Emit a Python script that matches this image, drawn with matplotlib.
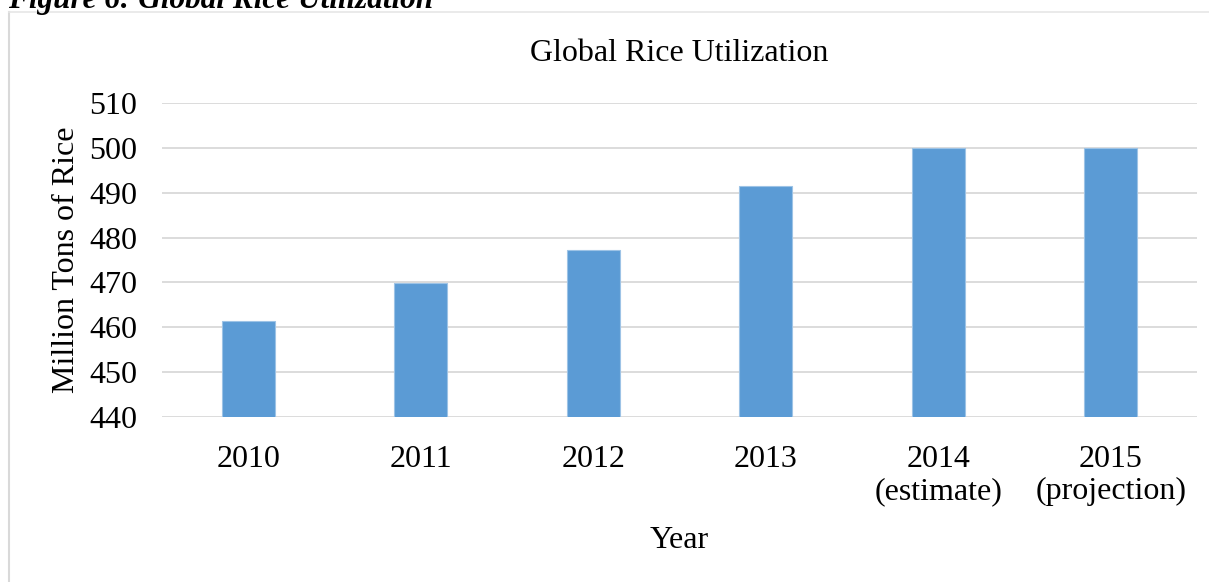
import matplotlib.pyplot as plt
from matplotlib.lines import Line2D

# Data
years = ['2010', '2011', '2012', '2013', '2014\n(estimate)', '2015\n(projection)']
utilization = [461.5, 469.8, 477.3, 491.5, 500.0, 500.0]
y_ticks = [440, 450, 460, 470, 480, 490, 500, 510]

plt.rcParams['font.family'] = ['Liberation Serif', 'DejaVu Serif']

W, H = 1209, 582
fig = plt.figure(figsize=(W / 100, H / 100), dpi=100)
ax = fig.add_axes([162 / W, 1 - 417 / H, (1197 - 162) / W, (417 - 103) / H])

ax.bar(range(len(years)), utilization, width=0.31, color='#5b9bd5',
       edgecolor='#9dc3e6', linewidth=0.8, zorder=3)

ax.set_ylim(440, 510)
ax.set_xlim(-0.5, len(years) - 0.5)
ax.set_yticks(y_ticks)
ax.set_xticks(range(len(years)))
ax.set_xticklabels(years, linespacing=1.12)
ax.tick_params(axis='both', length=0, labelsize=23)
ax.tick_params(axis='y', pad=18)
ax.tick_params(axis='x', pad=20.5)
ax.grid(axis='y', color='#d9d9d9', linewidth=1.3, zorder=0)
for s in ax.spines.values():
    s.set_visible(False)

ax.set_ylabel('Million Tons of Rice', fontsize=23, labelpad=6)
ax.set_xlabel('Year', fontsize=23, labelpad=14)
ax.set_title('Global Rice Utilization', fontsize=23, pad=30)

# chart frame (left and top edges) and cropped caption
fig.add_artist(Line2D([9 / W, 9 / W], [0, 1 - 12 / H], color='#d9d9d9', lw=1.5,
                      transform=fig.transFigure))
fig.add_artist(Line2D([9 / W, 1], [1 - 12 / H, 1 - 12 / H], color='#e6e6e6', lw=1.2,
                      transform=fig.transFigure))
fig.text(8 / W, 1 - 8 / H, 'Figure 6: Global Rice Utilization', fontsize=22.5,
         fontweight='bold', fontstyle='italic', va='baseline', ha='left')

fig.savefig('out.png', dpi=100)
